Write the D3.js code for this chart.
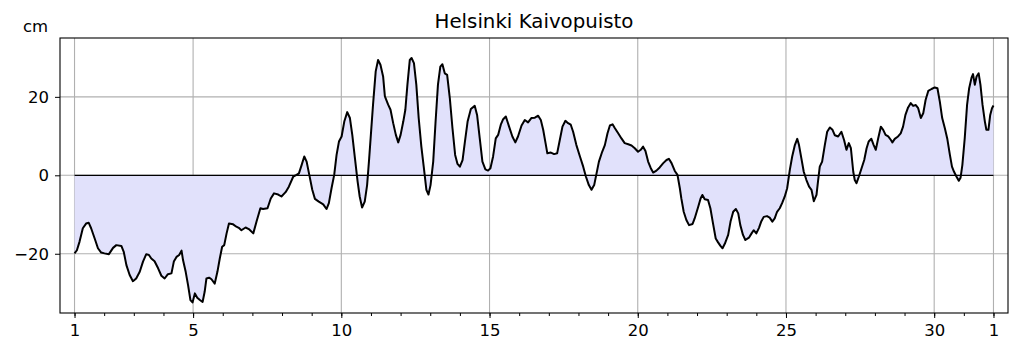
<!DOCTYPE html>
<html>
<head>
<meta charset="utf-8">
<script src="https://cdn.jsdelivr.net/npm/d3@7"></script>
<style>
  body { margin: 0; background: #fff; }
  svg { display: block; font-family: "DejaVu Sans", sans-serif; }
</style>
</head>
<body>
<div id="chart"></div>
<script>
(function() {

// sea level at Helsinki Kaivopuisto, day of month (fractional) and level in cm
const days = [
  1.00, 1.08, 1.17, 1.28, 1.39, 1.48, 1.56, 1.68, 1.79, 1.90, 2.01, 2.16, 2.30, 2.41, 2.58, 2.66,
  2.75, 2.86, 2.97, 3.08, 3.20, 3.31, 3.42, 3.51, 3.59, 3.70, 3.82, 3.93, 4.04, 4.15, 4.27, 4.35,
  4.44, 4.53, 4.61, 4.66, 4.75, 4.83, 4.91, 4.98, 5.06, 5.14, 5.23, 5.32, 5.39, 5.45, 5.54, 5.62,
  5.73, 5.82, 5.90, 5.98, 6.05, 6.13, 6.21, 6.35, 6.46, 6.54, 6.63, 6.77, 6.88, 7.03, 7.14, 7.27,
  7.36, 7.51, 7.62, 7.73, 7.87, 7.98, 8.12, 8.23, 8.38, 8.49, 8.57, 8.66, 8.75, 8.83, 8.92, 9.02,
  9.11, 9.24, 9.39, 9.50, 9.58, 9.67, 9.76, 9.84, 9.92, 10.01, 10.10, 10.20, 10.29, 10.37, 10.46, 10.55,
  10.62, 10.70, 10.79, 10.87, 10.94, 11.07, 11.16, 11.24, 11.32, 11.41, 11.47, 11.58, 11.66, 11.75, 11.84, 11.92,
  12.00, 12.09, 12.16, 12.23, 12.31, 12.37, 12.45, 12.53, 12.61, 12.70, 12.78, 12.87, 12.94, 13.01, 13.10, 13.18,
  13.26, 13.34, 13.41, 13.49, 13.57, 13.66, 13.75, 13.84, 13.92, 14.00, 14.09, 14.17, 14.26, 14.37, 14.50, 14.58,
  14.67, 14.76, 14.86, 14.95, 15.03, 15.12, 15.21, 15.29, 15.38, 15.46, 15.55, 15.66, 15.77, 15.87, 15.96, 16.08,
  16.19, 16.30, 16.41, 16.53, 16.64, 16.73, 16.81, 16.89, 16.95, 17.07, 17.18, 17.28, 17.37, 17.46, 17.56, 17.65,
  17.74, 17.82, 17.93, 18.05, 18.16, 18.25, 18.35, 18.44, 18.53, 18.61, 18.69, 18.80, 18.89, 18.98, 19.06, 19.15,
  19.23, 19.34, 19.45, 19.56, 19.68, 19.79, 19.90, 20.01, 20.10, 20.18, 20.26, 20.35, 20.44, 20.52, 20.63, 20.74,
  20.86, 20.97, 21.05, 21.14, 21.25, 21.34, 21.42, 21.47, 21.55, 21.64, 21.73, 21.85, 21.92, 22.04, 22.12, 22.18,
  22.26, 22.37, 22.45, 22.54, 22.63, 22.71, 22.79, 22.86, 22.94, 23.05, 23.13, 23.22, 23.31, 23.39, 23.46, 23.55,
  23.63, 23.75, 23.84, 23.91, 24.00, 24.09, 24.17, 24.25, 24.36, 24.45, 24.54, 24.62, 24.70, 24.79, 24.87, 24.96,
  25.04, 25.13, 25.21, 25.30, 25.38, 25.44, 25.52, 25.60, 25.69, 25.78, 25.86, 25.94, 26.03, 26.08, 26.14, 26.22,
  26.31, 26.39, 26.48, 26.57, 26.65, 26.76, 26.87, 26.96, 27.04, 27.12, 27.19, 27.27, 27.32, 27.38, 27.46, 27.55,
  27.64, 27.72, 27.79, 27.88, 27.96, 28.03, 28.11, 28.20, 28.28, 28.36, 28.45, 28.54, 28.59, 28.67, 28.78, 28.87,
  28.95, 29.03, 29.12, 29.21, 29.29, 29.38, 29.46, 29.55, 29.63, 29.71, 29.80, 29.91, 30.02, 30.11, 30.19, 30.27,
  30.36, 30.44, 30.53, 30.60, 30.67, 30.75, 30.83, 30.89, 30.95, 31.03, 31.11, 31.18, 31.26, 31.31, 31.37, 31.43,
  31.50, 31.56, 31.63, 31.71, 31.76, 31.83, 31.89, 31.95, 32.00
];

const levels = [
  -19.9, -19.1, -16.9, -13.5, -12.3, -12.1, -13.5, -16.1, -18.6, -19.7, -19.9, -20.1, -18.5, -17.8, -18.0, -19.5,
  -22.9, -25.4, -27.0, -26.3, -24.6, -22.0, -20.1, -20.3, -21.2, -21.9, -23.7, -25.6, -26.3, -25.2, -25.0, -22.0,
  -20.8, -20.3, -19.2, -21.6, -24.6, -28.0, -31.8, -32.4, -30.1, -31.2, -31.8, -32.3, -29.7, -26.3, -26.1, -26.5,
  -27.6, -24.6, -21.2, -18.2, -17.8, -14.8, -12.3, -12.5, -13.1, -13.4, -14.0, -13.3, -13.7, -14.8, -11.8, -8.4,
  -8.6, -8.4, -5.9, -4.6, -4.9, -5.4, -4.3, -2.9, -0.3, 0.1, 0.5, 2.6, 4.8, 3.5, 0.1, -3.7,
  -6.0, -6.7, -7.4, -8.6, -7.1, -3.3, 0.1, 5.2, 8.6, 9.9, 13.7, 16.1, 14.6, 10.3, 4.3, -1.6,
  -5.4, -8.2, -6.7, -2.5, 4.3, 18.0, 26.5, 29.4, 28.2, 25.2, 20.1, 18.0, 16.7, 13.3, 10.3, 8.4,
  10.3, 13.7, 16.7, 23.1, 29.4, 29.9, 28.6, 23.1, 14.6, 7.3, 2.2, -3.7, -4.9, -2.5, 3.5, 13.7,
  23.1, 27.7, 28.3, 26.0, 25.6, 19.7, 12.0, 5.2, 2.9, 2.2, 3.9, 8.6, 13.7, 16.9, 17.7, 15.4,
  9.4, 3.5, 1.5, 1.2, 1.8, 4.8, 9.4, 10.3, 12.9, 14.3, 15.0, 12.4, 9.9, 8.4, 9.9, 12.7,
  14.1, 13.5, 14.6, 14.7, 15.2, 14.1, 11.6, 8.2, 5.6, 5.8, 5.4, 5.6, 9.0, 12.4, 13.9, 13.3,
  12.9, 11.1, 7.7, 4.8, 2.2, -0.3, -2.5, -3.7, -2.5, 0.5, 3.5, 6.0, 7.7, 10.7, 12.7, 13.0,
  12.0, 10.7, 9.4, 8.2, 7.9, 7.6, 6.9, 6.0, 6.5, 7.3, 6.2, 3.5, 1.8, 0.7, 1.2, 2.0,
  3.1, 3.9, 4.2, 3.1, 1.1, 0.1, -3.3, -5.9, -9.3, -11.4, -12.7, -12.4, -11.0, -8.0, -5.9, -5.0,
  -6.1, -6.3, -8.4, -12.3, -16.1, -17.1, -18.0, -18.6, -17.4, -15.2, -11.8, -9.3, -8.6, -9.7, -12.7, -15.2,
  -16.5, -15.9, -14.8, -14.0, -14.8, -13.4, -11.7, -10.6, -10.4, -10.8, -11.8, -11.0, -9.3, -8.4, -7.1, -5.4,
  -3.3, 1.4, 4.8, 7.7, 9.3, 7.7, 4.3, 0.9, -1.2, -2.9, -3.7, -6.6, -5.0, -1.6, 2.2, 3.5,
  7.7, 11.1, 12.2, 11.6, 10.2, 9.9, 11.1, 9.0, 6.5, 8.2, 6.9, 0.9, -1.2, -2.0, -0.3, 1.8,
  3.9, 6.9, 8.6, 9.3, 7.7, 6.5, 9.4, 12.4, 11.6, 10.3, 9.9, 9.0, 8.4, 9.3, 9.9, 10.7,
  12.4, 15.4, 17.3, 18.4, 17.7, 17.9, 17.1, 14.6, 15.8, 19.2, 21.5, 22.0, 22.4, 22.2, 18.8, 14.6,
  12.0, 9.4, 5.2, 2.2, 0.9, -0.3, -1.4, -0.6, 2.6, 9.4, 18.0, 22.2, 24.9, 25.8, 23.1, 25.2,
  26.0, 23.1, 18.0, 13.7, 11.6, 11.6, 15.4, 17.1, 17.8
];

const majorDays = [1, 5, 10, 15, 20, 25, 30, 32];
const minorDays = d3.range(1, 33);
const yTicks = [-20, 0, 20];

const width = 1019,
height = 352;

const margin = {top: 38, right: 11, bottom: 39, left: 60};

const svg = d3.select("#chart")
.append("svg")
.attr("width", width)
.attr("height", height);

const data = days.map((d, i) => ({day: d, level: levels[i]}));

const x = d3.scaleLinear()
  .domain([0.51, 32.49])
  .range([margin.left, width - margin.right]);

const y = d3.scaleLinear()
  .domain([-35.1, 35])
  .range([height - margin.bottom, margin.top]);

// grid
svg.append("g")
  .selectAll("line")
  .data(majorDays)
  .join("line")
  .attr("x1", d => x(d)).attr("x2", d => x(d))
  .attr("y1", margin.top).attr("y2", height - margin.bottom)
  .attr("stroke", "#b0b0b0")
  .attr("stroke-width", 1.1);

svg.append("g")
  .selectAll("line")
  .data(yTicks)
  .join("line")
  .attr("x1", margin.left).attr("x2", width - margin.right)
  .attr("y1", d => y(d)).attr("y2", d => y(d))
  .attr("stroke", "#b0b0b0")
  .attr("stroke-width", 1.1);

// area between level and zero
const area = d3.area()
  .x(d => x(d.day))
  .y0(y(0))
  .y1(d => y(d.level));

svg.append("path")
  .datum(data)
  .attr("fill", "#e1e1fb")
  .attr("d", area);

svg.append("line")
  .attr("x1", x(days[0])).attr("x2", x(days[days.length - 1]))
  .attr("y1", y(0)).attr("y2", y(0))
  .attr("stroke", "#000")
  .attr("stroke-width", 1.2);

const line = d3.line()
  .x(d => x(d.day))
  .y(d => y(d.level));

svg.append("path")
  .datum(data)
  .attr("fill", "none")
  .attr("stroke", "#000")
  .attr("stroke-width", 2)
  .attr("stroke-linejoin", "round")
  .attr("d", line);

// axes
const fontSize = "16.5px";

const xAxis = svg.append("g")
  .attr("transform", `translate(0,${height - margin.bottom})`)
  .call(d3.axisBottom(x)
    .tickValues(majorDays)
    .tickSize(5)
    .tickPadding(6)
    .tickFormat(d => d > 31 ? d - 31 : d));

xAxis.select(".domain").remove();
xAxis.selectAll("text").attr("font-size", fontSize).attr("font-family", "DejaVu Sans").attr("fill", "#000");

svg.append("g")
  .attr("transform", `translate(0,${height - margin.bottom})`)
  .call(d3.axisBottom(x).tickValues(minorDays).tickSize(3).tickFormat(""))
  .call(g => g.select(".domain").remove());

const yAxis = svg.append("g")
  .attr("transform", `translate(${margin.left},0)`)
  .call(d3.axisLeft(y)
    .tickValues(yTicks)
    .tickSize(5)
    .tickPadding(6)
    .tickFormat(d => d < 0 ? "\u2212" + Math.abs(d) : d));

yAxis.select(".domain").remove();
yAxis.selectAll("text").attr("font-size", fontSize).attr("font-family", "DejaVu Sans").attr("fill", "#000");

// frame
svg.append("rect")
  .attr("x", margin.left)
  .attr("y", margin.top)
  .attr("width", width - margin.left - margin.right)
  .attr("height", height - margin.top - margin.bottom)
  .attr("fill", "none")
  .attr("stroke", "#000")
  .attr("stroke-width", 1.1);

svg.append("text")
  .attr("x", (margin.left + width - margin.right) / 2)
  .attr("y", 28)
  .attr("text-anchor", "middle")
  .attr("font-size", "19.8px")
  .text("Helsinki Kaivopuisto");

svg.append("text")
  .attr("x", 23)
  .attr("y", 32)
  .attr("font-size", fontSize)
  .text("cm");

})();
</script>
</body>
</html>
